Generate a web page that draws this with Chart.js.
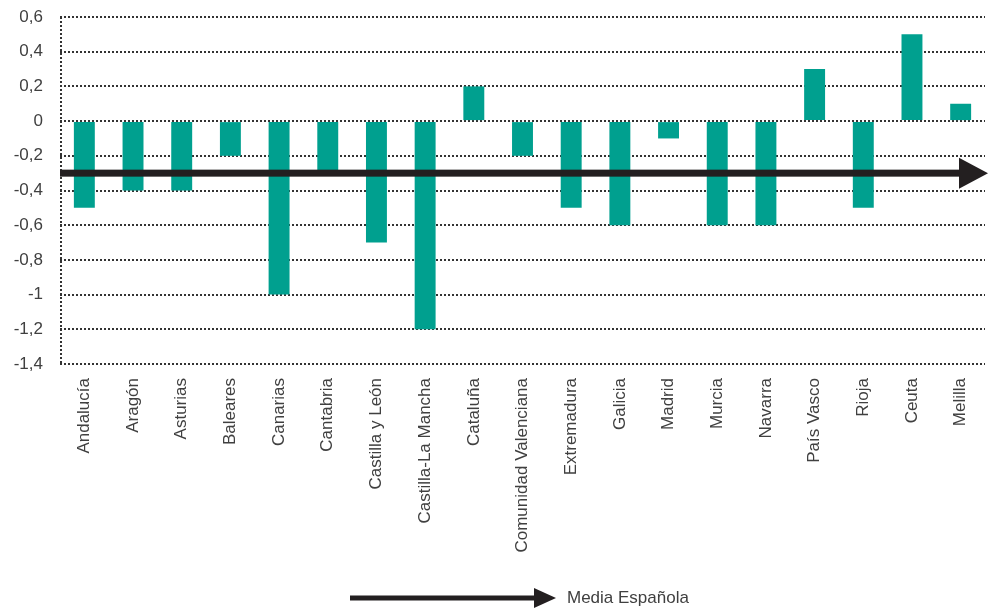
<!DOCTYPE html>
<html>
<head>
<meta charset="utf-8">
<script src="https://cdn.jsdelivr.net/npm/chart.js@4"></script>
<style>
  html, body { margin: 0; padding: 0; background: #fff; }
  #wrap { width: 988px; height: 609px; }
</style>
</head>
<body>
<div id="wrap"><canvas id="c-media"></canvas></div>
<script>
var regiones = [
  "Andalucía", "Aragón", "Asturias", "Baleares", "Canarias", "Cantabria",
  "Castilla y León", "Castilla-La Mancha", "Cataluña", "Comunidad Valenciana",
  "Extremadura", "Galicia", "Madrid", "Murcia", "Navarra", "País Vasco",
  "Rioja", "Ceuta", "Melilla"
];
var diferencias = [-0.5, -0.4, -0.4, -0.2, -1.0, -0.3, -0.7, -1.2, 0.2, -0.2,
  -0.5, -0.6, -0.1, -0.6, -0.6, 0.3, -0.5, 0.5, 0.1];
var mediaEspanola = -0.3;
var yMin = -1.4, yMax = 0.6, yPaso = 0.2;

var tinta = "#231f20";
var texto = "#404040";
var fuente = "'Liberation Sans', Arial, sans-serif";
var punteado = [2, 2];

// dotted left axis line
var ejePlugin = {
  id: "eje",
  beforeDatasetsDraw: function (chart) {
    var ctx = chart.ctx;
    var area = chart.chartArea;
    ctx.save();
    ctx.strokeStyle = "#333";
    ctx.lineWidth = 2;
    ctx.setLineDash(punteado);
    ctx.beginPath();
    ctx.moveTo(area.left + 1, area.top);
    ctx.lineTo(area.left + 1, area.bottom);
    ctx.stroke();
    ctx.restore();
  }
};

// thick arrow at the Spanish average + bottom legend
var mediaPlugin = {
  id: "media",
  afterDraw: function (chart) {
    var ctx = chart.ctx;
    var area = chart.chartArea;
    var y = chart.scales.y.getPixelForValue(mediaEspanola);
    var tipX = chart.width;
    var baseX = tipX - 29;
    ctx.save();
    ctx.fillStyle = tinta;
    ctx.fillRect(area.left, y - 3.5, baseX - area.left, 7);
    ctx.beginPath();
    ctx.moveTo(baseX, y - 15.5);
    ctx.lineTo(tipX, y);
    ctx.lineTo(baseX, y + 15.5);
    ctx.closePath();
    ctx.fill();

    // legend
    var ly = 598;
    ctx.fillRect(350, ly - 2.5, 186, 5);
    ctx.beginPath();
    ctx.moveTo(534, ly - 10);
    ctx.lineTo(556, ly);
    ctx.lineTo(534, ly + 10);
    ctx.closePath();
    ctx.fill();
    ctx.fillStyle = texto;
    ctx.font = "17px " + fuente;
    ctx.textBaseline = "middle";
    ctx.fillText("Media Española", 567, ly);
    ctx.restore();
  }
};

var ctx = document.getElementById("c-media").getContext("2d");
var myChart = new Chart(ctx, {
  type: "bar",
  data: {
    labels: regiones,
    datasets: [{
      label: "Diferencia",
      backgroundColor: "#00a08f",
      data: diferencias,
      barPercentage: 0.43,
      categoryPercentage: 1
    }]
  },
  options: {
    responsive: true,
    maintainAspectRatio: false,
    animation: false,
    layout: { padding: { top: 17, right: 3, bottom: 0, left: 0 } },
    plugins: {
      legend: { display: false },
      tooltip: { enabled: false }
    },
    scales: {
      x: {
        grid: { display: false, drawTicks: false },
        border: { display: false },
        ticks: {
          color: texto,
          font: { family: fuente, size: 17 },
          maxRotation: 90,
          minRotation: 90,
          padding: 14,
          autoSkip: false
        },
        afterFit: function (scale) {
          scale.height = 245;
          scale.paddingLeft = 0;
          scale.paddingRight = 0;
        }
      },
      y: {
        min: yMin,
        max: yMax,
        grid: {
          color: "#333",
          lineWidth: 2,
          drawTicks: false
        },
        border: { display: false, dash: punteado },
        ticks: {
          stepSize: yPaso,
          padding: 17,
          color: texto,
          font: { family: fuente, size: 17 },
          callback: function (v) {
            return String(Math.round(v * 10) / 10).replace(".", ",");
          }
        },
        afterFit: function (scale) {
          scale.width = 60;
          scale.paddingTop = 0;
          scale.paddingBottom = 0;
        }
      }
    }
  },
  plugins: [ejePlugin, mediaPlugin]
});
// dotted gridlines
myChart.options.scales.y.grid.borderDash = punteado;
myChart.update();
</script>
</body>
</html>
